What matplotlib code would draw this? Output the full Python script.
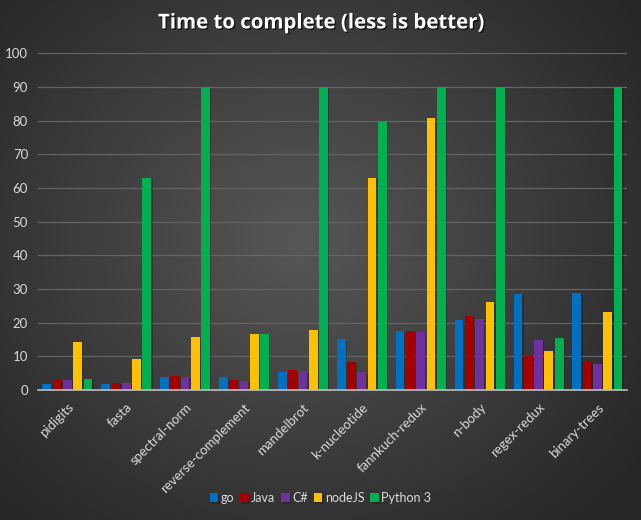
import numpy as np
import matplotlib
matplotlib.use('Agg')
import matplotlib.pyplot as plt
import matplotlib.patheffects as pe

# benchmark names and times (seconds, capped at 90)
benchmarks = ['pidigits', 'fasta', 'spectral-norm', 'reverse-complement', 'mandelbrot',
              'k-nucleotide', 'fannkuch-redux', 'n-body', 'regex-redux', 'binary-trees']
go_times = [1.8, 1.8, 3.9, 3.9, 5.3, 15.1, 17.5, 20.8, 28.5, 28.8]
java_times = [3.0, 2.1, 4.2, 3.0, 5.9, 8.3, 17.5, 22.0, 10.1, 8.3]
csharp_times = [3.0, 2.1, 3.9, 2.7, 5.6, 5.3, 17.2, 21.1, 14.9, 7.7]
node_times = [14.3, 9.2, 15.7, 16.6, 17.8, 63.0, 80.8, 26.1, 11.6, 23.2]
python_times = [3.3, 63.0, 90.0, 16.6, 90.0, 79.9, 90.0, 90.0, 15.4, 90.0]

languages = ['go', 'Java', 'C#', 'nodeJS', 'Python 3']
colors = ['#0070C0', '#A50000', '#7030A0', '#FFC000', '#00B050']
series = [go_times, java_times, csharp_times, node_times, python_times]

plt.rcParams['font.family'] = ['Lato', 'DejaVu Sans']

fig = plt.figure(figsize=(6.41, 5.20), dpi=100)

# radial gradient background
bg = fig.add_axes([0, 0, 1, 1], zorder=-10)
yy, xx = np.mgrid[0:520, 0:641]
r = np.sqrt(((xx - 300) / 420.0) ** 2 + ((yy - 240) / 380.0) ** 2)
r = np.clip(r, 0, 1)
shade = 0.34 - 0.19 * r
bg.imshow(np.dstack([shade, shade, shade]), aspect='auto', extent=[0, 1, 0, 1])
bg.axis('off')

ax = fig.add_axes([0.059, 0.25, 0.919, 0.6475])
ax.patch.set_alpha(0)

x = np.arange(len(benchmarks))
step = 0.175
width = 0.148
shadow = [pe.SimplePatchShadow(offset=(1, -1), shadow_rgbFace='black', alpha=0.22), pe.Normal()]
for i, (vals, lang, col) in enumerate(zip(series, languages, colors)):
    bars = ax.bar(x + (i - 2) * step, vals, width, color=col, label=lang, zorder=3)
    for b in bars:
        b.set_path_effects(shadow)

ax.set_ylim(0, 100)
ax.set_yticks(range(0, 101, 10))
ax.set_xlim(-0.5, len(benchmarks) - 0.5)
ax.set_xticks(x)
ax.set_xticklabels(benchmarks, rotation=45, ha='right', rotation_mode='anchor')
ax.tick_params(axis='both', length=0, colors='#D9D9D9', labelsize=9.5)
ax.tick_params(axis='x', pad=8)
ax.tick_params(axis='y', pad=7)
ax.grid(axis='y', color='#646464', linewidth=0.9, zorder=0)
for s in ['top', 'right', 'left']:
    ax.spines[s].set_visible(False)
ax.spines['bottom'].set_color('#BFBFBF')
ax.spines['bottom'].set_linewidth(1.2)
ax.spines['bottom'].set_zorder(4)

fig.text(0.5, 0.955, 'Time to complete (less is better)', ha='center', va='center',
         color='white', fontsize=14.7, fontweight='bold', family=['Open Sans', 'DejaVu Sans'],
         path_effects=[pe.withSimplePatchShadow(offset=(1, -1), shadow_rgbFace='black', alpha=0.6)])

leg = fig.legend(loc='center', bbox_to_anchor=(0.5, 0.042), ncol=5, frameon=False,
                 handlelength=0.7, handleheight=0.7, handletextpad=0.2, columnspacing=0.45,
                 fontsize=9)
for t in leg.get_texts():
    t.set_color('#D9D9D9')

fig.savefig('out.png', dpi=100)
